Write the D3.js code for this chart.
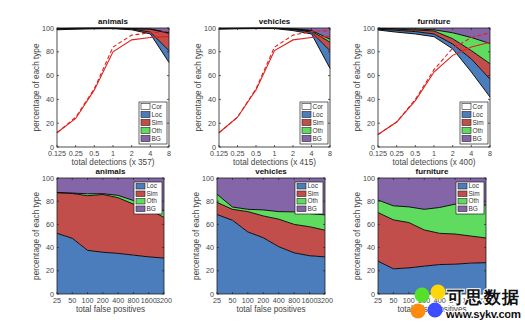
<!DOCTYPE html>
<html>
<head>
<meta charset="utf-8">
<script src="https://cdn.jsdelivr.net/npm/d3@7"></script>
<style>
  body { margin: 0; background: #fff; }
  text { font-family: "Liberation Sans", Arial, sans-serif; }
</style>
</head>
<body>
<svg id="chart" width="525" height="324"></svg>
<script>
// error types and fills
var types = ["Cor", "Loc", "Sim", "Oth", "BG"];
var typeColors = ["#ffffff", "#4b7dbd", "#c14e4a", "#5fdb5f", "#8466a8"];

// x values
var detScales = [0.125, 0.25, 0.5, 1, 2, 4, 8];
var fpCounts = [25, 50, 100, 200, 400, 800, 1600, 3200];

var categories = ["animals", "vehicles", "furniture"];
var totalDetections = [357, 415, 400];

// upper edge (cumulative %) of Cor / Loc / Sim / Oth; BG fills up to 100
var animalsCor = [98.5, 99, 99.3, 99.4, 98.5, 95, 71];
var animalsLoc = [99.2, 99.5, 99.6, 99.7, 99.2, 96.5, 81];
var animalsSim = [99.5, 99.7, 99.8, 99.8, 99.5, 99, 95.5];
var animalsOth = [99.6, 99.8, 99.9, 99.9, 99.6, 99.2, 96];

var vehiclesCor = [99, 99.3, 99.5, 99.5, 97.8, 95, 66];
var vehiclesLoc = [99.4, 99.6, 99.7, 99.7, 98.8, 96.5, 81];
var vehiclesSim = [99.6, 99.7, 99.8, 99.8, 99.2, 97.5, 88];
var vehiclesOth = [99.7, 99.8, 99.9, 99.9, 99.5, 98, 90.5];

var furnitureCor = [98.3, 96.5, 95, 92.7, 82.5, 63, 42];
var furnitureLoc = [99, 98, 97, 95, 86.5, 74, 57];
var furnitureSim = [99.5, 99, 98.3, 97.5, 91, 81, 70];
var furnitureOth = [99.7, 99.5, 99.2, 98.5, 96, 92, 87];

// red curves: solid and dashed
var animalsSolid = [12, 24, 48, 80, 90, 92, 93];
var animalsDashed = [12, 25, 49, 84, 94, 96, 97];
var vehiclesSolid = [12, 25, 48, 81, 90, 92, 93];
var vehiclesDashed = [12, 25, 49, 84, 94, 97, 98];
var furnitureSolid = [10.5, 21, 39, 63, 77, 84, 88];
var furnitureDashed = [10.5, 21, 40, 65, 83, 92, 96];

// false positive breakdown, cumulative tops of Loc / Sim / Oth
var animalsFpLoc = [52.3, 48, 37.6, 36, 35, 33.5, 32, 31];
var animalsFpSim = [87.3, 86.7, 84.7, 85.8, 83, 77.5, 73, 66];
var animalsFpOth = [87.5, 87, 86.4, 86.5, 85, 80.6, 77.5, 71.7];

var vehiclesFpLoc = [68.5, 63.6, 53.5, 48.5, 40.8, 35.5, 33, 32];
var vehiclesFpSim = [79, 73, 71, 67.3, 64.5, 60, 58, 55];
var vehiclesFpOth = [86, 75, 73, 72.5, 71, 70.8, 69.4, 68.2];

var furnitureFpLoc = [28.3, 21.7, 22.5, 24, 25.4, 25.7, 26.6, 27];
var furnitureFpSim = [70.2, 63.9, 61.6, 55.2, 52.3, 51.7, 50, 48.3];
var furnitureFpOth = [81, 76, 75.1, 73, 74.6, 77.5, 76.6, 76.6];

var yTicks = [0, 20, 40, 60, 80, 100];

var topEdges = [
  [animalsCor, animalsLoc, animalsSim, animalsOth],
  [vehiclesCor, vehiclesLoc, vehiclesSim, vehiclesOth],
  [furnitureCor, furnitureLoc, furnitureSim, furnitureOth]
];
var topCurves = [
  [animalsSolid, animalsDashed],
  [vehiclesSolid, vehiclesDashed],
  [furnitureSolid, furnitureDashed]
];
var fpEdges = [
  [animalsFpLoc, animalsFpSim, animalsFpOth],
  [vehiclesFpLoc, vehiclesFpSim, vehiclesFpOth],
  [furnitureFpLoc, furnitureFpSim, furnitureFpOth]
];

// panel boxes
var topBoxes = [[57, 169], [219, 330], [378, 490]];
var botBoxes = [[57, 164], [217, 325], [378, 486]];
var topY = [28, 147];
var botY = [178, 294];

var svg = d3.select("#chart");

function drawPanel(opts) {
  var x = d3.scaleLog().base(2).domain(opts.domain).range([opts.x0, opts.x1]);
  var y = d3.scaleLinear().domain([0, 100]).range([opts.y1, opts.y0]);
  var g = svg.append("g");

  // stacked bands: each band lies between the previous edge and its own
  var edges = [opts.xs.map(function() { return 0; })].concat(opts.edges);
  edges.push(opts.xs.map(function() { return 100; }));
  for (var k = 0; k < edges.length - 1; k++) {
    var lo = edges[k], hi = edges[k + 1];
    var area = d3.area()
      .x(function(d, i) { return x(opts.xs[i]); })
      .y0(function(d, i) { return y(lo[i]); })
      .y1(function(d, i) { return y(hi[i]); });
    g.append("path")
      .datum(opts.xs)
      .attr("d", area)
      .attr("fill", opts.colors[k])
      .attr("stroke", "none");
  }
  // black boundary lines
  opts.edges.forEach(function(e) {
    g.append("path")
      .datum(e)
      .attr("d", d3.line()
        .x(function(d, i) { return x(opts.xs[i]); })
        .y(function(d) { return y(d); }))
      .attr("fill", "none")
      .attr("stroke", "#000")
      .attr("stroke-width", 0.9);
  });

  // red curves
  (opts.curves || []).forEach(function(c, j) {
    g.append("path")
      .datum(c)
      .attr("d", d3.line()
        .x(function(d, i) { return x(opts.xs[i]); })
        .y(function(d) { return y(d); }))
      .attr("fill", "none")
      .attr("stroke", "#e3201b")
      .attr("stroke-width", 1.1)
      .attr("stroke-dasharray", j == 1 ? "4,2.5" : null);
  });

  // axes box with inward ticks
  g.append("rect")
    .attr("x", opts.x0).attr("y", opts.y0)
    .attr("width", opts.x1 - opts.x0).attr("height", opts.y1 - opts.y0)
    .attr("fill", "none").attr("stroke", "#222").attr("stroke-width", 0.8);

  yTicks.forEach(function(t) {
    g.append("line").attr("x1", opts.x0).attr("x2", opts.x0 + 2)
      .attr("y1", y(t)).attr("y2", y(t)).attr("stroke", "#222").attr("stroke-width", 0.7);
    g.append("line").attr("x1", opts.x1).attr("x2", opts.x1 - 2)
      .attr("y1", y(t)).attr("y2", y(t)).attr("stroke", "#222").attr("stroke-width", 0.7);
    g.append("text")
      .attr("x", opts.x0 - 3).attr("y", y(t) + 2.5)
      .attr("text-anchor", "end")
      .attr("font-size", "7.2px").attr("fill", "#444")
      .text(t);
  });
  opts.xs.forEach(function(t, i) {
    g.append("line").attr("x1", x(t)).attr("x2", x(t))
      .attr("y1", opts.y1).attr("y2", opts.y1 - 2).attr("stroke", "#222").attr("stroke-width", 0.7);
    g.append("line").attr("x1", x(t)).attr("x2", x(t))
      .attr("y1", opts.y0).attr("y2", opts.y0 + 2).attr("stroke", "#222").attr("stroke-width", 0.7);
    g.append("text")
      .attr("x", x(t)).attr("y", opts.y1 + 8.5)
      .attr("text-anchor", "middle")
      .attr("font-size", "7.2px").attr("fill", "#444")
      .text(opts.tickLabels[i]);
  });

  g.append("text")
    .attr("x", (opts.x0 + opts.x1) / 2).attr("y", opts.y0 - 4)
    .attr("text-anchor", "middle")
    .attr("font-size", "8px").attr("font-weight", "bold").attr("fill", "#111")
    .text(opts.title);
  g.append("text")
    .attr("x", (opts.x0 + opts.x1) / 2).attr("y", opts.y1 + 17.5)
    .attr("text-anchor", "middle")
    .attr("font-size", "8.2px").attr("fill", "#444")
    .text(opts.xLabel);
  g.append("text")
    .attr("transform", "translate(" + (opts.x0 - 18) + "," + ((opts.y0 + opts.y1) / 2) + ") rotate(-90)")
    .attr("text-anchor", "middle")
    .attr("font-size", "8.2px").attr("fill", "#444")
    .text("percentage of each type");

  // legend
  var rowH = opts.legendRow, n = opts.legendNames.length;
  var lw = 28, lh = n * rowH + 2;
  var lx = opts.x1 - lw - 2;
  var ly = opts.legendTop ? opts.y0 + 4 : opts.y1 - lh - 3;
  var lg = g.append("g").attr("transform", "translate(" + lx + "," + ly + ")");
  lg.append("rect").attr("width", lw).attr("height", lh)
    .attr("fill", "#fff").attr("stroke", "#222").attr("stroke-width", 0.7);
  opts.legendNames.forEach(function(name, i) {
    lg.append("rect")
      .attr("x", 2).attr("y", 1.5 + i * rowH)
      .attr("width", 9).attr("height", rowH - 2)
      .attr("fill", opts.legendColors[i]).attr("stroke", "#222").attr("stroke-width", 0.6);
    lg.append("text")
      .attr("x", 12.5).attr("y", 1 + i * rowH + rowH * 0.72)
      .attr("font-size", "6.5px").attr("fill", "#333")
      .text(name);
  });
}

categories.forEach(function(cat, c) {
  drawPanel({
    domain: [0.125, 8], xs: detScales, tickLabels: detScales,
    x0: topBoxes[c][0], x1: topBoxes[c][1], y0: topY[0], y1: topY[1],
    edges: topEdges[c], colors: typeColors, curves: topCurves[c],
    title: cat, xLabel: "total detections (x " + totalDetections[c] + ")",
    legendNames: types, legendColors: typeColors, legendRow: 8, legendTop: false
  });
  drawPanel({
    domain: [25, 3200], xs: fpCounts, tickLabels: fpCounts,
    x0: botBoxes[c][0], x1: botBoxes[c][1], y0: botY[0], y1: botY[1],
    edges: fpEdges[c], colors: typeColors.slice(1), curves: [],
    title: cat, xLabel: "total false positives",
    legendNames: types.slice(1), legendColors: typeColors.slice(1), legendRow: 7.5, legendTop: true
  });
});

// site stamp in the lower right corner
var stamp = svg.append("g");
[["#ff8a10", 418, 311], ["#3d4dff", 435, 310], ["#56e02a", 422, 295], ["#ffd60a", 438, 292]]
  .forEach(function(d) {
    stamp.append("circle").attr("cx", d[1]).attr("cy", d[2]).attr("r", 7.5).attr("fill", d[0]);
  });
stamp.append("text")
  .attr("x", 447).attr("y", 303)
  .attr("font-family", "'Noto Sans CJK SC', sans-serif")
  .attr("font-size", "17px").attr("font-weight", "bold")
  .attr("fill", "#111").attr("stroke", "#fff").attr("stroke-width", 2).attr("paint-order", "stroke")
  .attr("textLength", 72)
  .text("可思数据");
stamp.append("text")
  .attr("x", 446).attr("y", 318)
  .attr("font-family", "'DejaVu Sans', sans-serif")
  .attr("font-size", "11.5px").attr("font-weight", "bold")
  .attr("fill", "#111").attr("stroke", "#fff").attr("stroke-width", 2).attr("paint-order", "stroke")
  .attr("textLength", 75)
  .text("www.sykv.com");
</script>
</body>
</html>
